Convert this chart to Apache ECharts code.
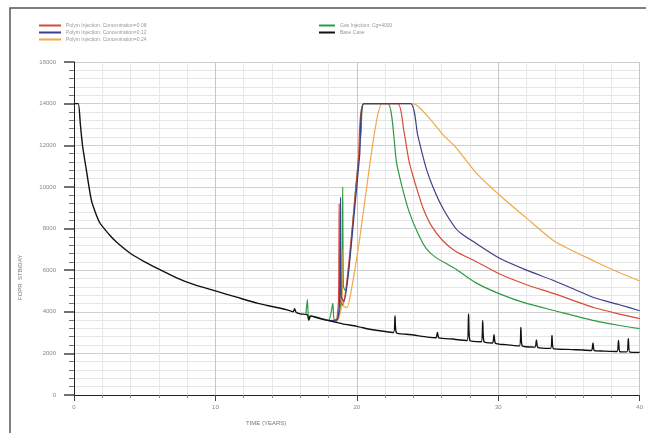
<!DOCTYPE html>
<html>
<head>
<meta charset="utf-8">
<script src="https://cdn.jsdelivr.net/npm/echarts@6/dist/echarts.min.js"></script>
<style>
html, body { margin: 0; padding: 0; background: #fff; }
#main { width: 646px; height: 433px; }
</style>
</head>
<body>
<div id="main"></div>
<script>
// series names as in the legend
var seriesNames = [
    'Polym Injection: Concentration=0.08',
    'Polym Injection: Concentration=0.12',
    'Polym Injection: Concentration=0.24',
    'Gas Injection: Cg=4000',
    'Base Case'
];
var xTicks = [0, 10, 20, 30, 40];
var yTicks = [0, 2000, 4000, 6000, 8000, 10000, 12000, 14000, 16000];

// [time (years), rate]
var baseCase = [
    [0, 14000], [0.3, 14000], [0.45, 13000], [0.6, 12000], [0.9, 10700], [1.25, 9300], [1.8, 8300],
    [2.5, 7700], [3.0, 7350], [4.0, 6800], [5, 6400], [6, 6050], [7.3, 5620],
    [8.5, 5300], [10, 5000], [11.5, 4700], [13, 4400], [14, 4250], [15, 4100],
    [15.5, 4000], [15.6, 4150], [15.7, 3980], [16, 3900], [16.5, 3850], [16.6, 3600],
    [16.7, 3800], [17, 3750], [17.5, 3650], [18, 3580], [18.5, 3500], [19, 3420],
    [20, 3300], [21, 3150], [22, 3050], [22.6, 3000], [22.7, 3800], [22.8, 2980],
    [23.5, 2920], [24, 2880], [25, 2780], [25.6, 2750], [25.7, 3000], [25.8, 2740],
    [26.8, 2690], [27, 2670], [27.8, 2620], [27.9, 3900], [28.0, 2610], [28.8, 2560],
    [28.9, 3570], [29.0, 2550], [29.6, 2500], [29.7, 2900], [29.8, 2490], [30.5, 2420],
    [31.5, 2360], [31.6, 3240], [31.7, 2350], [32.6, 2300], [32.7, 2650], [32.8, 2290],
    [33.7, 2240], [33.8, 2860], [33.9, 2230], [35, 2190], [36, 2160], [36.6, 2140],
    [36.7, 2500], [36.8, 2130], [37.5, 2110], [38.4, 2090], [38.5, 2620], [38.6, 2080],
    [39.1, 2070], [39.2, 2700], [39.3, 2060], [40, 2050]
];
var polym008 = [
    [18, 3580], [18.5, 3500], [18.7, 4500], [18.75, 9200], [18.8, 4600], [19.0, 4300],
    [19.3, 5500], [19.7, 8200], [20.1, 11200], [20.5, 14000], [22.9, 14000], [23.3, 12800],
    [23.7, 11200], [24.2, 10000], [24.7, 8950], [25.3, 8100], [26.1, 7400], [27, 6900],
    [28.4, 6430], [30.1, 5810], [32, 5300], [34, 4860], [36.8, 4190], [38.5, 3900], [40, 3670]
];
var polym012 = [
    [18, 3580], [18.6, 3600], [18.8, 4800], [18.85, 9500], [18.9, 4700], [19.1, 4500],
    [19.4, 5800], [19.8, 8600], [20.2, 11500], [20.5, 14000], [23.8, 14000], [24.3, 12500],
    [24.9, 10900], [25.5, 9800], [26.1, 8950], [27, 8000], [27.5, 7700], [28.4, 7300],
    [30.1, 6570], [32, 6000], [34, 5480], [36.8, 4670], [38.5, 4350], [40, 4050]
];
var polym024 = [
    [18, 3580], [18.6, 3550], [18.9, 4200], [18.95, 7000], [19.0, 4300], [19.3, 4200],
    [19.6, 5000], [20.2, 7500], [20.8, 10500], [21.3, 12800], [21.8, 14000], [24, 14000],
    [25, 13400], [26.1, 12500], [27, 11900], [28.4, 10700], [30.1, 9600], [32, 8500],
    [34, 7380], [36.8, 6430], [38.5, 5900], [40, 5480]
];
var gasInj = [
    [16.4, 3860], [16.5, 4600], [16.6, 3600], [16.8, 3800], [18, 3580], [18.3, 4400],
    [18.4, 3600], [18.7, 3700], [18.95, 5000], [19.0, 10000], [19.05, 5200], [19.2, 5000],
    [19.5, 6600], [19.9, 9800], [20.3, 12600], [20.5, 14000], [22.2, 14000], [22.8, 11200],
    [23.2, 10000], [23.7, 8800], [24.3, 7800], [24.9, 7050], [25.6, 6600], [26.5, 6250],
    [27, 6050], [28.4, 5400], [30.1, 4860], [32, 4400], [34, 4050], [36.8, 3570],
    [38.5, 3350], [40, 3190]
];

var colors = ['#d84a3a', '#3c3f8a', '#f0a848', '#2f9a45', '#111111'];

var myChart = echarts.init(document.getElementById('main'), null, { renderer: 'canvas' });

function mkSeries(i, data, w) {
    return {
        name: seriesNames[i],
        type: 'line',
        data: data,
        showSymbol: false,
        symbol: 'none',
        smooth: 0.2,
        lineStyle: { color: colors[i], width: w },
        itemStyle: { color: colors[i] },
        animation: false
    };
}

var legendText = { fontSize: 5, color: '#999', fontFamily: 'Liberation Sans' };

var option = {
    backgroundColor: '#fff',
    animation: false,
    graphic: [
        { type: 'rect', shape: { x: 10, y: 8, width: 700, height: 500 },
          style: { fill: 'none', stroke: '#555', lineWidth: 1.5 }, z: 100 },
        { type: 'text', left: 246, top: 420,
          style: { text: 'TIME (YEARS)', fontSize: 6, fill: '#777', fontFamily: 'Liberation Sans' } },
        { type: 'text', x: 17, y: 300, rotation: Math.PI / 2,
          style: { text: 'FOPR  STB/DAY', fontSize: 6, fill: '#777', fontFamily: 'Liberation Sans' } }
    ],
    legend: [
        {
            data: seriesNames.slice(0, 3),
            orient: 'vertical',
            left: 34, top: 18,
            itemWidth: 22, itemHeight: 2, itemGap: 2,
            icon: 'rect',
            textStyle: legendText
        },
        {
            data: seriesNames.slice(3),
            orient: 'vertical',
            left: 314, top: 18,
            itemWidth: 16, itemHeight: 2, itemGap: 2,
            icon: 'rect',
            textStyle: legendText
        }
    ],
    grid: { left: 74, right: 2, top: 62, bottom: 38, containLabel: false },
    xAxis: {
        type: 'value',
        min: xTicks[0], max: xTicks[xTicks.length - 1], interval: 10,
        axisLine: { show: true, lineStyle: { color: '#222', width: 1 } },
        axisTick: { show: true, length: 6, lineStyle: { color: '#444' } },
        minorTick: { show: true, splitNumber: 5, length: 3, lineStyle: { color: '#888' } },
        axisLabel: { fontSize: 6, color: '#888', margin: 9, fontFamily: 'Liberation Sans' },
        splitLine: { show: true, lineStyle: { color: '#c8c8c8', width: 1 } },
        minorSplitLine: { show: true, lineStyle: { color: '#e8e8e8', width: 1 } }
    },
    yAxis: {
        type: 'value',
        min: yTicks[0], max: yTicks[yTicks.length - 1], interval: 2000,
        axisLine: { show: true, lineStyle: { color: '#222', width: 1 } },
        axisTick: { show: true, length: 10, lineStyle: { color: '#444', width: 1.5 } },
        minorTick: { show: true, splitNumber: 5, length: 5, lineStyle: { color: '#777' } },
        axisLabel: {
            fontSize: 6, color: '#888', margin: 18, fontFamily: 'Liberation Sans',
            formatter: function (v) { return String(v); }
        },
        splitLine: { show: true, lineStyle: { color: '#cfcfcf', width: 1 } },
        minorSplitLine: { show: true, lineStyle: { color: '#e6e6e6', width: 1 } }
    },
    series: [
        mkSeries(3, gasInj, 1.2),
        mkSeries(2, polym024, 1.2),
        mkSeries(0, polym008, 1.2),
        mkSeries(1, polym012, 1.2),
        mkSeries(4, baseCase, 1.4)
    ]
};

if (option)
    myChart.setOption(option);
</script>
</body>
</html>
